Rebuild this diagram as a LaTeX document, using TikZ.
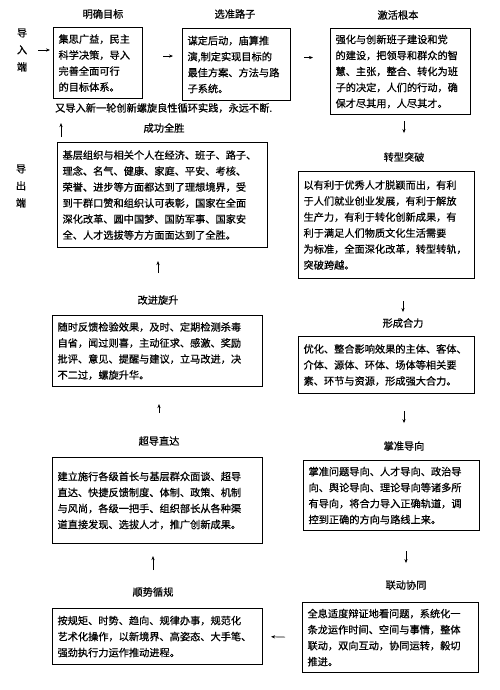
\documentclass[tikz,border=0pt]{standalone}
\usepackage{fontspec}
\setmainfont{Noto Sans CJK SC}[FakeBold=0.6]
\usepackage{tikz}
\usetikzlibrary{arrows.meta}

\begin{document}
\begin{tikzpicture}[x=1pt,y=-1pt,
  box/.style={draw,line width=1.1pt,anchor=north west,align=left,inner xsep=5pt,inner ysep=3pt,font=\fontsize{10.2}{16}\selectfont},
  ttl/.style={inner sep=1pt,font=\fontsize{10.2}{12}\selectfont},
  side/.style={align=center,inner sep=1pt,font=\fontsize{10.2}{17}\selectfont},
  arr/.style={-{Stealth[length=4pt,width=3.2pt]},line width=0.7pt}]
\useasboundingbox (0,0) rectangle (500,690);

% Input end, top row
\node[side] (daoru) at (22,50) {导\\入\\端};
\node[ttl] (mubiaoT) at (103,14) {明确目标};
\node[box,text width=79pt,minimum height=71pt] (mubiao) at (53,27)
  {集思广益，民主\\科学决策，导入\\完善全面可行\\的目标体系。};
\node[ttl] (luziT) at (235,14) {选准路子};
\node[box,text width=98pt,minimum height=72pt] (luzi) at (182,28)
  {谋定后动，庙算推\\演,制定实现目标的\\最佳方案、方法与路\\子系统。};
\node[ttl] (genbenT) at (398,15) {激活根本};
\node[box,text width=130pt,minimum height=86pt] (genben) at (330,28)
  {强化与创新班子建设和党\\的建设，把领导和群众的智\\慧、主张，整合、转化为班\\子的决定，人们的行动，确\\保才尽其用，人尽其才。};
\node[ttl,anchor=west] (loop) at (54,108) {又导入新一轮创新螺旋良性循环实践，永远不断.};

\draw[arr,shorten <=10pt,shorten >=3pt] (daoru.east) -- (daoru.east -| mubiao.west);
\draw[arr,shorten <=20pt,shorten >=9pt] ([yshift=7pt]mubiao.east) -- ([yshift=7pt]mubiao.east -| luzi.west);
\draw[arr,shorten <=13pt,shorten >=17pt] ([yshift=7pt]luzi.east) -- ([yshift=7pt]luzi.east -| genben.west);

% Right column, going down
\node[ttl] (zhuanxingT) at (404,157) {转型突破};
\node[box,text width=166pt,minimum height=107pt] (zhuanxing) at (298,171)
  {以有利于优秀人才脱颖而出，有利\\于人们就业创业发展，有利于解放\\生产力，有利于转化创新成果，有\\利于满足人们物质文化生活需要\\为标准，全面深化改革，转型转轨，\\突破跨越。};
\node[ttl] (heliT) at (403,323) {形成合力};
\node[box,text width=166pt,minimum height=57pt] (heli) at (298,336)
  {优化、整合影响效果的主体、客体、\\介体、源体、环体、场体等相关要\\素、环节与资源，形成强大合力。};
\node[ttl] (daoxiangT) at (404,446) {掌准导向};
\node[box,text width=166pt,minimum height=70pt] (daoxiang) at (303,460)
  {掌准问题导向、人才导向、政治导\\向、舆论导向、理论导向等诸多所\\有导向，将合力导入正确轨道，调\\控到正确的方向与路线上来。};
\node[ttl] (liandongT) at (406,585) {联动协同};
\node[box,text width=166pt,minimum height=70pt] (liandong) at (302,602)
  {全息适度辩证地看问题，系统化一\\条龙运作时间、空间与事情，整体\\联动，双向互动，协同运转，毅切\\推进。};

\draw[arr,shorten <=6pt,shorten >=18pt] (genben.south -| zhuanxingT) -- (zhuanxingT.north);
\draw[arr,shorten <=22pt,shorten >=5pt] (zhuanxing.south -| heliT) -- (heliT.north);
\draw[arr,shorten <=17pt,shorten >=17pt] (heli.south -| daoxiangT) -- (daoxiangT.north);
\draw[arr,shorten <=20pt,shorten >=16pt] (daoxiang.south -| liandongT) -- (liandongT.north);

% Left column, going up
\node[side] (daochu) at (21,186) {导\\出\\端};
\node[ttl] (quanshengT) at (164,128) {成功全胜};
\node[box,text width=200pt,minimum height=105pt] (quansheng) at (57,142)
  {基层组织与相关个人在经济、班子、路子、\\理念、名气、健康、家庭、平安、考核、\\荣誉、进步等方面都达到了理想境界，受\\到干群口赞和组织认可表彰，国家在全面\\深化改革、圆中国梦、国防军事、国家安\\全、人才选拔等方方面面达到了全胜。};
\node[ttl] (gaijinT) at (158,300) {改进旋升};
\node[box,text width=200pt,minimum height=71pt] (gaijin) at (52,315)
  {随时反馈检验效果，及时、定期检测杀毒\\自省，闻过则喜，主动征求、感激、奖励\\批评、意见、提醒与建议，立马改进，决\\不二过，螺旋升华。};
\node[ttl] (chaodaoT) at (159,441) {超导直达};
\node[box,text width=200pt,minimum height=86pt] (chaodao) at (52,457)
  {建立施行各级首长与基层群众面谈、超导\\直达、快捷反馈制度、体制、政策、机制\\与风尚，各级一把手、组织部长从各种渠\\道直接发现、选拔人才，推广创新成果。};
\node[ttl] (shunshiT) at (153,592) {顺势循规};
\node[box,text width=200pt,minimum height=56pt] (shunshi) at (52,608)
  {按规矩、时势、趋向、规律办事，规范化\\艺术化操作，以新境界、高姿态、大手笔、\\强劲执行力运作推动进程。};

\draw[arr,shorten <=17pt,shorten >=8pt] (liandong.west) -- (shunshi.east);
\draw[arr,shorten <=16pt,shorten >=12pt] (shunshiT.north) -- (shunshiT.north |- chaodao.south);
\draw[arr,shorten <=22pt,shorten >=17pt] (chaodaoT.north) -- (chaodaoT.north |- gaijin.south);
\draw[arr,shorten <=21pt,shorten >=13pt] (gaijinT.north) -- (gaijinT.north |- quansheng.south);
\draw[arr,shorten <=5pt,shorten >=9pt] ([xshift=4pt]quansheng.north west) -- ([xshift=4pt]quansheng.north west |- loop.south);
\end{tikzpicture}
\end{document}
